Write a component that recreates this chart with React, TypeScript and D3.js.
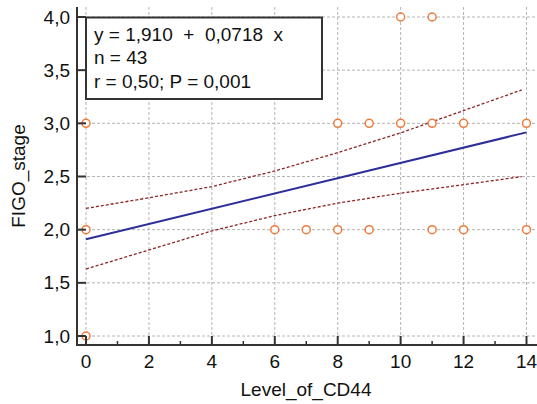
import React from "react";
import * as d3 from "d3";

// Observed data points (Level_of_CD44, FIGO_stage)
const pointX = [0, 0, 0, 6, 7, 8, 8, 9, 9, 10, 10, 11, 11, 11, 12, 12, 14, 14];
const pointY = [1, 2, 3, 2, 2, 2, 3, 2, 3, 3, 4, 2, 3, 4, 2, 3, 2, 3];

// Regression coefficients
const intercept = 1.91;
const slope = 0.0718;
const regX = [0, 14];

// Confidence band
const bandX = [0, 2, 4, 6, 8, 10, 12, 13.85];
const bandUpper = [2.2, 2.3, 2.405, 2.552, 2.724, 2.91, 3.12, 3.314];
const bandLower = [1.63, 1.809, 1.988, 2.132, 2.25, 2.343, 2.423, 2.499];

const xTicks = [0, 2, 4, 6, 8, 10, 12, 14];
const xMinorTicks = [1, 3, 5, 7, 9, 11, 13];
const yTicks = [1.0, 1.5, 2.0, 2.5, 3.0, 3.5, 4.0];

const legendLines = ["y = 1,910  +  0,0718  x", "n = 43", "r = 0,50; P = 0,001"];

const W = 537;
const H = 404;
const axisLeft = 77;
const axisBottom = 345;
const plotTop = 7;
const plotRight = 540;

export default function App() {
  const x = d3.scaleLinear().domain([0, 14]).range([86, 526.5]);
  const y = d3.scaleLinear().domain([1, 4]).range([336, 17]);
  const fmt = (v: number) => v.toFixed(1).replace(".", ",");

  const regLine = d3
    .line<number>()
    .x((d) => x(d))
    .y((d) => y(intercept + slope * d));
  const upperLine = d3
    .line<number>()
    .x((d) => x(d))
    .y((_, i) => y(bandUpper[i]));
  const lowerLine = d3
    .line<number>()
    .x((d) => x(d))
    .y((_, i) => y(bandLower[i]));

  const font = "'Liberation Sans', Arial, sans-serif";
  const fs = 19;

  return (
    <svg
      width={W}
      height={H}
      style={{ position: "absolute", left: 0, top: 0, background: "#fff" }}
      fontFamily={font}
    >
      <rect x={0} y={0} width={W} height={H} fill="#fff" />
      {/* grid */}
      <g stroke="#b4b4b4" strokeWidth={1} strokeDasharray="3,2">
        {xTicks.map((t) => (
          <line key={"gx" + t} x1={x(t)} x2={x(t)} y1={plotTop} y2={axisBottom} />
        ))}
        {yTicks.map((t) => (
          <line key={"gy" + t} x1={axisLeft} x2={plotRight} y1={y(t)} y2={y(t)} />
        ))}
      </g>
      {/* confidence band */}
      <g fill="none" stroke="#8e2424" strokeWidth={1.3} strokeDasharray="3,2">
        <path d={upperLine(bandX) || ""} />
        <path d={lowerLine(bandX) || ""} />
      </g>
      {/* regression line */}
      <path d={regLine(regX) || ""} fill="none" stroke="#2e2e9a" strokeWidth={2} />
      {/* points */}
      <g fill="#fff" stroke="#f07a3a" strokeWidth={1.5}>
        {pointX.map((px, i) => (
          <circle key={"p" + i} cx={x(px)} cy={y(pointY[i])} r={4} />
        ))}
      </g>
      {/* axes */}
      <g stroke="#333" strokeWidth={2}>
        <line x1={axisLeft} x2={axisLeft} y1={plotTop} y2={axisBottom + 1} />
        <line x1={axisLeft - 1} x2={plotRight} y1={axisBottom} y2={axisBottom} />
        {yTicks.map((t) => (
          <line key={"ty" + t} x1={axisLeft} x2={axisLeft + 9} y1={y(t)} y2={y(t)} />
        ))}
        {xTicks.map((t) => (
          <line key={"tx" + t} x1={x(t)} x2={x(t)} y1={axisBottom} y2={axisBottom - 9} />
        ))}
        {xMinorTicks.map((t) => (
          <line key={"tm" + t} x1={x(t)} x2={x(t)} y1={axisBottom} y2={axisBottom - 4} strokeWidth={1.5} />
        ))}
      </g>
      {/* tick labels */}
      <g fontSize={fs} fill="#111">
        {yTicks.map((t) => (
          <text key={"ly" + t} x={70} y={y(t)} dy="0.35em" textAnchor="end">
            {fmt(t)}
          </text>
        ))}
        {xTicks.map((t) => (
          <text key={"lx" + t} x={x(t)} y={368} textAnchor="middle">
            {t}
          </text>
        ))}
      </g>
      {/* axis titles */}
      <text x={306} y={395.5} textAnchor="middle" fontSize={fs} fill="#111">
        Level_of_CD44
      </text>
      <text
        transform={`translate(25,${(plotTop + axisBottom) / 2}) rotate(-90)`}
        textAnchor="middle"
        fontSize={fs}
        fill="#111"
      >
        FIGO_stage
      </text>
      {/* legend */}
      <rect x={86} y={17.5} width={236} height={81.5} fill="#fff" stroke="#333" strokeWidth={2} />
      <g fontSize={fs} fill="#111" style={{ whiteSpace: "pre" }}>
        {legendLines.map((l, i) => (
          <text key={"lg" + i} x={94} y={41 + i * 23.3} xmlSpace="preserve">
            {l}
          </text>
        ))}
      </g>
    </svg>
  );
}
